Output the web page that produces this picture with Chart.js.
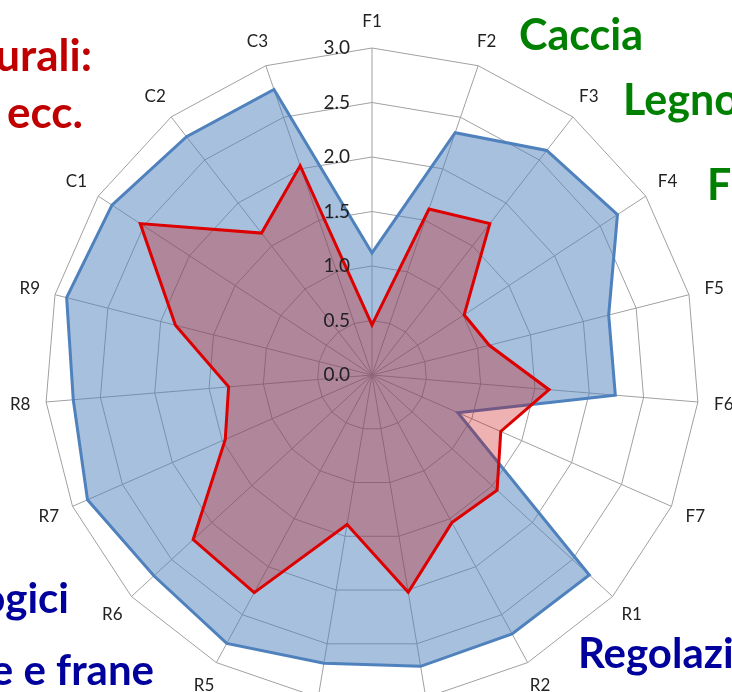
<!DOCTYPE html>
<html>
<head>
<meta charset="utf-8">
<script src="https://cdn.jsdelivr.net/npm/chart.js@4/dist/chart.umd.min.js"></script>
<style>
  html, body { margin: 0; padding: 0; background: #fff; }
  body { width: 732px; height: 692px; overflow: hidden; position: relative; }
  #radar { position: absolute; left: -28px; top: -25px; }
  .note { position: absolute; font-family: Lato, "Open Sans", sans-serif; font-weight: bold; line-height: 1; white-space: nowrap; }
  .green { color: #008000; font-size: 43px; }
  .red { color: #c00000; font-size: 44px; }
  .blue { color: #00009c; font-size: 42px; }
</style>
</head>
<body>
<canvas id="radar" width="800" height="800"></canvas>

<div class="note green" style="left:519px; top:12px;">Caccia</div>
<div class="note green" style="left:623px; top:77px;">Legno</div>
<div class="note green" style="left:707px; top:162px;">Fu</div>
<div class="note red" style="right:640px; top:32px;">urali:</div>
<div class="note red" style="right:649px; top:89px;">ecc.</div>
<div class="note blue" style="right:663px; top:576px;">ogici</div>
<div class="note blue" style="right:578px; top:648px;">e e frane</div>
<div class="note blue" style="left:578px; top:631px;">Regolazi</div>

<script>
// axes of the radar, clockwise from the top
const axisLabels = ['F1', 'F2', 'F3', 'F4', 'F5', 'F6', 'F7',
  'R1', 'R2', 'R3', 'R4', 'R5', 'R6', 'R7', 'R8', 'R9',
  'C1', 'C2', 'C3'];

// blue series (outer)
const blueValues = [1.12, 2.35, 2.61, 2.69, 2.24, 2.24, 0.86,
  2.71, 2.70, 2.71, 2.68, 2.80, 2.72, 2.85, 2.75, 2.89,
  2.85, 2.77, 2.77];

// red series (inner)
const redValues = [0.46, 1.61, 1.76, 1.01, 1.11, 1.63, 1.29,
  1.56, 1.54, 2.02, 1.39, 2.27, 2.23, 1.47, 1.32, 1.86,
  2.54, 1.65, 2.03];

// scale ticks
const tickValues = [0, 0.5, 1, 1.5, 2, 2.5, 3];
const tickLabels = ['0.0', '0.5', '1.0', '1.5', '2.0', '2.5', '3.0'];

// Draw the axis names and the tick numbers like Excel does
const labelPlugin = {
  id: 'excelLabels',
  afterDatasetsDraw(chart) {
    const scale = chart.scales.r;
    const ctx = chart.ctx;
    ctx.save();

    // tick numbers, left of the vertical axis
    ctx.font = '19px Lato, "Open Sans", sans-serif';
    ctx.fillStyle = '#222';
    ctx.textAlign = 'right';
    ctx.textBaseline = 'middle';
    tickValues.forEach((v, i) => {
      const d = scale.getDistanceFromCenterForValue(v);
      ctx.fillText(tickLabels[i], scale.xCenter - 22, scale.yCenter - d);
    });

    // axis names outside the outer ring
    ctx.font = '17px Lato, "Open Sans", sans-serif';
    ctx.fillStyle = '#222';
    ctx.textAlign = 'center';
    axisLabels.forEach((name, i) => {
      const p = scale.getPointPosition(i, scale.drawingArea + 26);
      ctx.fillText(name, p.x, p.y);
    });

    ctx.restore();
  }
};

let ctx = document.getElementById('radar').getContext('2d');

new Chart(ctx, {
  type: 'radar',
  data: {
    labels: axisLabels,
    datasets: [{
      label: 'rosso',
      data: redValues,
      borderColor: '#dd0000',
      backgroundColor: 'rgba(200,0,0,0.3)',
      borderWidth: 3,
      pointRadius: 0,
      fill: true
    }, {
      label: 'blu',
      data: blueValues,
      borderColor: '#4f81bd',
      backgroundColor: 'rgba(79,129,189,0.5)',
      borderWidth: 3,
      pointRadius: 0,
      fill: true
    }]
  },
  options: {
    responsive: false,
    animation: false,
    layout: { padding: 73 },
    plugins: {
      legend: { display: false },
      tooltip: { enabled: false }
    },
    scales: {
      r: {
        min: 0,
        max: 3,
        ticks: { stepSize: 0.5, display: false },
        pointLabels: { display: false },
        grid: { color: '#a0a0a0', lineWidth: 1 },
        angleLines: { color: '#a0a0a0', lineWidth: 1 }
      }
    }
  },
  plugins: [labelPlugin]
});
</script>
</body>
</html>
